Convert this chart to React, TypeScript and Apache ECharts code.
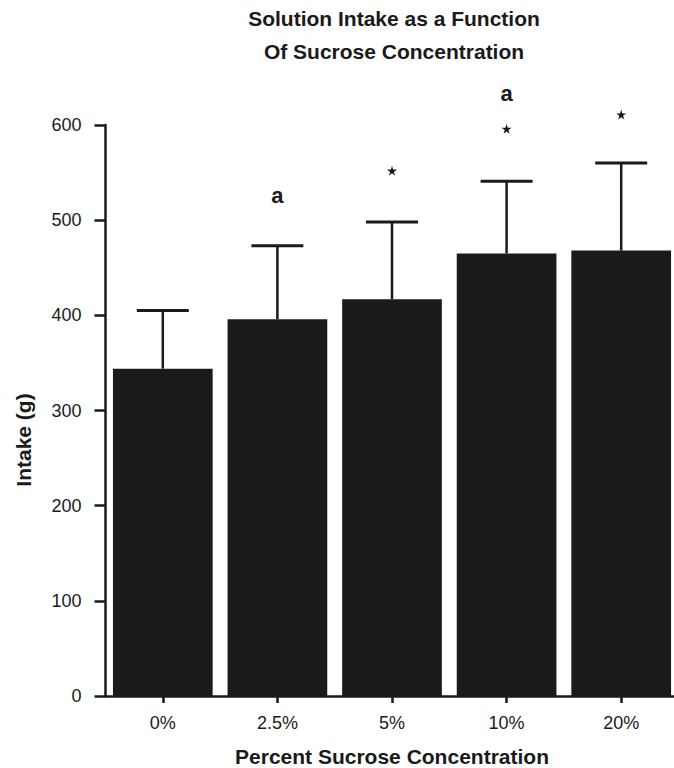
import React, { useEffect, useRef } from "react";
import * as echarts from "echarts";

const categories = ["0%", "2.5%", "5%", "10%", "20%"];
const intakeMeans = [344, 396, 417, 465, 468];
const intakeErrTop = [405, 473, 498, 541, 560];
const yTicks = { min: 0, max: 600, interval: 100 };
const letterMarks: [number, number, string][] = [
  [1, 526, "a"],
  [3, 633, "a"],
];
const starMarks: [number, number][] = [
  [2, 552],
  [3, 596],
  [4, 611],
];
const titleLines = ["Solution Intake as a Function", "Of Sucrose Concentration"];
const xName = "Percent Sucrose Concentration";
const yName = "Intake (g)";

const INK = "#1a1a1a";
const FONT = "'Liberation Sans', Arial, Helvetica, sans-serif";
const STAR =
  "path://M50,0 L61,35 L98,35 L68,57 L79,91 L50,70 L21,91 L32,57 L2,35 L39,35 Z";

function boldText(text: string, x: number, y: number, size: number, rot = 0) {
  return {
    type: "text",
    x,
    y,
    rotation: rot,
    style: {
      text,
      fontFamily: FONT,
      fontWeight: "bold",
      fontSize: size,
      fill: INK,
      textAlign: "center",
      textVerticalAlign: "middle",
    },
  };
}

export default function App() {
  const ref = useRef<HTMLDivElement>(null);
  useEffect(() => {
    document.body.style.margin = "0";
    document.body.style.overflow = "hidden";
    const chart = echarts.init(ref.current!, null, { renderer: "svg" });
    chart.setOption({
      animation: false,
      backgroundColor: "#ffffff",
      textStyle: { fontFamily: FONT },
      grid: { left: 105.5, right: 1.5, top: 125, bottom: 72 },
      graphic: [
        boldText(titleLines[0], 394, 18, 21),
        boldText(titleLines[1], 394, 51, 21),
        boldText(xName, 392, 756, 21),
        boldText(yName, 23, 440, 21, Math.PI / 2),
      ],
      xAxis: {
        type: "category",
        data: categories,
        axisLine: { show: true, lineStyle: { color: INK, width: 2.5 } },
        axisTick: {
          show: true,
          alignWithLabel: true,
          length: 7,
          lineStyle: { color: INK, width: 2.5 },
        },
        axisLabel: { color: INK, fontSize: 18, fontFamily: FONT, margin: 18 },
        splitLine: { show: false },
      },
      yAxis: {
        type: "value",
        min: yTicks.min,
        max: yTicks.max,
        interval: yTicks.interval,
        axisLine: { show: true, lineStyle: { color: INK, width: 2.5 } },
        axisTick: { show: true, length: 11, lineStyle: { color: INK, width: 2.5 } },
        axisLabel: { color: INK, fontSize: 18, fontFamily: FONT, margin: 24 },
        splitLine: { show: false },
      },
      series: [
        {
          type: "bar",
          data: intakeMeans,
          barCategoryGap: "13%",
          itemStyle: { color: INK },
          z: 2,
        },
        {
          type: "custom",
          z: 3,
          clip: false,
          data: intakeMeans.map((v, i) => [i, v, intakeErrTop[i]]),
          renderItem: (params: any, api: any) => {
            const i = api.value(0);
            const base = api.coord([i, api.value(1)]);
            const top = api.coord([i, api.value(2)]);
            const half = 26;
            return {
              type: "group",
              children: [
                {
                  type: "line",
                  shape: { x1: base[0], y1: base[1], x2: top[0], y2: top[1] },
                  style: { stroke: INK, lineWidth: 2.5 },
                },
                {
                  type: "line",
                  shape: { x1: top[0] - half, y1: top[1], x2: top[0] + half, y2: top[1] },
                  style: { stroke: INK, lineWidth: 3 },
                },
              ],
            };
          },
        },
        {
          type: "scatter",
          clip: false,
          data: letterMarks.map((m) => [m[0], m[1], m[2]]),
          symbolSize: 0,
          itemStyle: { opacity: 1 },
          label: {
            show: true,
            position: "inside",
            formatter: (p: any) => p.data[2],
            color: INK,
            fontFamily: FONT,
            fontWeight: "bold",
            fontSize: 22,
          },
          z: 4,
        },
        {
          type: "scatter",
          clip: false,
          data: starMarks,
          symbol: STAR,
          symbolSize: 10,
          itemStyle: { color: INK, opacity: 1 },
          z: 4,
        },
      ],
    });
    return () => chart.dispose();
  }, []);
  return (
    <div
      ref={ref}
      style={{ position: "fixed", left: 0, top: 0, width: 680, height: 768 }}
    />
  );
}
